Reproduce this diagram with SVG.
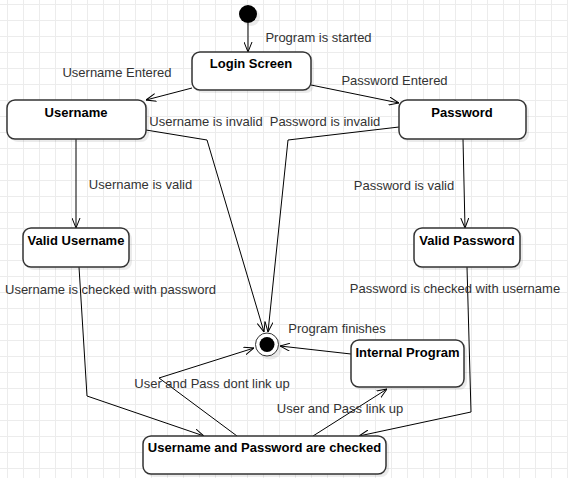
<svg xmlns="http://www.w3.org/2000/svg" width="568" height="478" viewBox="0 0 568 478">
<defs>
<pattern id="grid" x="7" y="4" width="16" height="16" patternUnits="userSpaceOnUse">
<path d="M0,0.5 H16 M0.5,0 V16" fill="none" stroke="#ececec" stroke-width="1"/>
</pattern>
<marker id="open" viewBox="0 0 10 9" refX="10" refY="4.5" markerWidth="10" markerHeight="9" markerUnits="userSpaceOnUse" orient="auto">
<path d="M0,0.5 L10,4.5 L0,8.5" fill="none" stroke="#000" stroke-width="1"/>
</marker>
</defs>
<style>
.node{fill:#fff;stroke:#333;stroke-width:1.5}
.shadow{fill:#000;opacity:0.08}
.title{font-family:"Liberation Sans",Arial,sans-serif;font-size:13px;font-weight:bold;fill:#000;text-anchor:middle}
.lbl{font-family:"Liberation Sans",Arial,sans-serif;font-size:13px;fill:#333;text-anchor:middle}
.edge{fill:none;stroke:#000;stroke-width:1;marker-end:url(#open)}
</style>
<rect width="568" height="478" fill="#fff"/>
<rect width="568" height="478" fill="url(#grid)"/>

<g id="connectors">
<path class="edge" d="M248,23 L248,52"/>
<path class="edge" d="M192,88 L146,100"/>
<path class="edge" d="M311,85 L399,103"/>
<path class="edge" d="M146,130 L207,140 L264,332"/>
<path class="edge" d="M399,127 L288,140 L268,332"/>
<path class="edge" d="M76,139 L76,228"/>
<path class="edge" d="M463,139 L465,228"/>
<path class="edge" d="M79,267 L87,396 L204,436"/>
<path class="edge" d="M467,267 L471,412 L359,436"/>
<path class="edge" d="M237,436 L159,378 L254,348"/>
<path class="edge" d="M313,436 L387,389"/>
<path class="edge" d="M351,354 L280,346"/>
<text class="lbl" x="318.5" y="42">Program is started</text>
<text class="lbl" x="117" y="77">Username Entered</text>
<text class="lbl" x="394.5" y="85">Password Entered</text>
<text class="lbl" x="206" y="126">Username is invalid</text>
<text class="lbl" x="325" y="126">Password is invalid</text>
<text class="lbl" x="140.5" y="189">Username is valid</text>
<text class="lbl" x="404" y="190">Password is valid</text>
<text class="lbl" x="110.5" y="294">Username is checked with password</text>
<text class="lbl" x="455" y="293">Password is checked with username</text>
<text class="lbl" x="337" y="333">Program finishes</text>
<text class="lbl" x="212" y="388">User and Pass dont link up</text>
<text class="lbl" x="340" y="413">User and Pass link up</text>
</g>

<g id="start">
<circle class="shadow" cx="251" cy="17" r="9"/>
<circle cx="248" cy="14" r="9" fill="#000"/>
</g>

<g id="login-screen">
<rect class="shadow" x="195" y="55" width="119" height="38" rx="8"/>
<rect class="node" x="192" y="52" width="119" height="38" rx="8"/>
<text class="title" x="251" y="68">Login Screen</text>
</g>

<g id="username">
<rect class="shadow" x="10" y="103" width="139" height="39" rx="8"/>
<rect class="node" x="7" y="100" width="139" height="39" rx="8"/>
<text class="title" x="76" y="117">Username</text>
</g>

<g id="password">
<rect class="shadow" x="402" y="103" width="127" height="39" rx="8"/>
<rect class="node" x="399" y="100" width="127" height="39" rx="8"/>
<text class="title" x="462" y="117">Password</text>
</g>

<g id="valid-username">
<rect class="shadow" x="26" y="231" width="106" height="39" rx="8"/>
<rect class="node" x="23" y="228" width="106" height="39" rx="8"/>
<text class="title" x="76" y="245">Valid Username</text>
</g>

<g id="valid-password">
<rect class="shadow" x="417" y="231" width="106" height="39" rx="8"/>
<rect class="node" x="414" y="228" width="106" height="39" rx="8"/>
<text class="title" x="467" y="245">Valid Password</text>
</g>

<g id="end">
<circle class="shadow" cx="270" cy="347.5" r="12"/>
<circle cx="267" cy="344.5" r="11.5" fill="#fff" stroke="#333" stroke-width="1"/>
<circle cx="267" cy="344.5" r="7.5" fill="#000"/>
</g>

<g id="internal-program">
<rect class="shadow" x="354" y="343" width="113" height="47" rx="8"/>
<rect class="node" x="351" y="340" width="113" height="47" rx="8"/>
<text class="title" x="407.5" y="357">Internal Program</text>
</g>

<g id="checked">
<rect class="shadow" x="146" y="439" width="243" height="38" rx="8"/>
<rect class="node" x="143" y="436" width="243" height="38" rx="8"/>
<text class="title" x="264.5" y="452">Username and Password are checked</text>
</g>
</svg>
